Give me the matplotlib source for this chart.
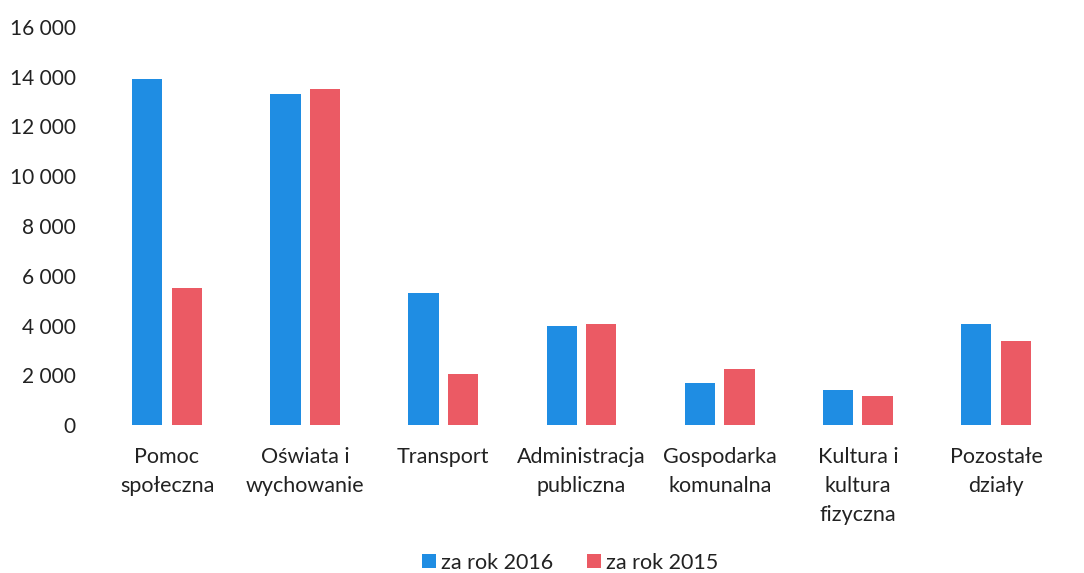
import numpy as np
import matplotlib.pyplot as plt

categories = ["Pomoc\nspołeczna", "Oświata i\nwychowanie", "Transport",
              "Administracja\npubliczna", "Gospodarka\nkomunalna",
              "Kultura i\nkultura\nfizyczna", "Pozostałe\ndziały"]
val_2016 = [13900, 13300, 5300, 4000, 1700, 1420, 4050]
val_2015 = [5500, 13500, 2070, 4060, 2270, 1180, 3380]
yticks = [0, 2000, 4000, 6000, 8000, 10000, 12000, 14000, 16000]
ytick_labels = ["0", "2 000", "4 000", "6 000", "8 000", "10 000", "12 000", "14 000", "16 000"]

plt.rcParams['font.family'] = ['Lato', 'DejaVu Sans']

fig = plt.figure(figsize=(10.84, 5.73), dpi=100)
ax = fig.add_axes([0.0903, 0.258, 0.8923, 0.695])

x = np.arange(len(categories))
w = 0.22
ax.bar(x - 0.143, val_2016, w, color='#1f8de3', label='za rok 2016')
ax.bar(x + 0.143, val_2015, w, color='#eb5a64', label='za rok 2015')

ax.set_xlim(-0.5, len(categories) - 0.5)
ax.set_ylim(0, 16000)
ax.set_yticks(yticks)
ax.set_yticklabels(ytick_labels, fontsize=15, color='#222222')
ax.set_xticks(x)
ax.set_xticklabels(categories, fontsize=15.5, color='#222222', linespacing=1.55, va='top')
ax.tick_params(axis='both', length=0)
ax.tick_params(axis='x', pad=16)
ax.tick_params(axis='y', pad=16)
for s in ax.spines.values():
    s.set_visible(False)

fig.legend(loc='center', bbox_to_anchor=(0.526, 0.018), ncol=2, frameon=False,
           fontsize=15.5, handlelength=0.65, handleheight=0.65, handletextpad=0.2,
           columnspacing=1.6, labelcolor='#222222')

fig.savefig("out.png", dpi=100)
